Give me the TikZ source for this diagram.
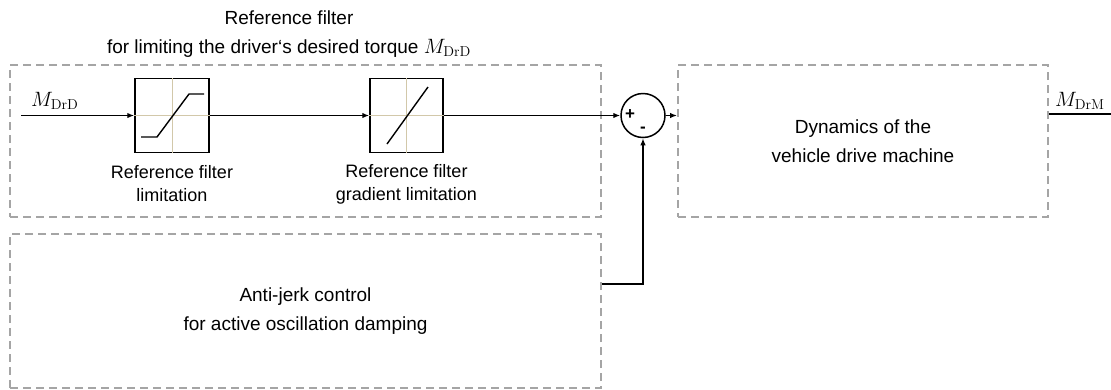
\documentclass[tikz,border=0pt]{standalone}
\usepackage[no-math]{fontspec}
\setmainfont{Liberation Sans}
\usetikzlibrary{arrows.meta}
\definecolor{axiscol}{RGB}{210,200,170}
\definecolor{dashcol}{RGB}{165,165,165}
\begin{document}
\begin{tikzpicture}[x=1pt,y=-1pt,
  dbox/.style={draw=dashcol, dash pattern=on 8pt off 5pt, line width=1.8pt, inner sep=0pt},
  blk/.style={draw=black, line width=1.5pt, inner sep=0pt, minimum width=74pt, minimum height=74pt},
  conn/.style={line width=1.5pt, -{Latex[length=7pt,width=5.5pt]}},
  plain/.style={line width=1.5pt},
  axisline/.style={draw=axiscol, line width=1pt},
  maintext/.style={font=\fontsize{19}{29}\selectfont, align=center, inner sep=0pt},
  labtext/.style={font=\fontsize{18}{23}\selectfont, align=center, inner sep=0pt},
  mathlab/.style={font=\fontsize{21}{21}\selectfont, inner sep=0pt},
  signtext/.style={font=\fontsize{17}{17}\selectfont\bfseries, inner sep=0pt}]
\useasboundingbox (0,0) rectangle (1111,389);

% dashed frames
\node[dbox, minimum width=591pt, minimum height=152pt] (ref) at (305.5,141) {};
\node[dbox, minimum width=591pt, minimum height=154pt, maintext] (aj) at (305.5,311)
  {Anti-jerk control\\for active oscillation damping};
\node[dbox, minimum width=370pt, minimum height=152pt, maintext] (dyn) at (863,141)
  {Dynamics of the\\vehicle drive machine};

% title
\node[maintext] (title) at (289,34)
  {Reference filter\\for limiting the driver‘s desired torque {\fontsize{21}{21}\selectfont$M_{\mathrm{DrD}}$}};

% blocks
\node[blk] (b1) at (172,115.5) {};
\node[blk, minimum width=73pt] (b2) at (406.5,115.5) {};
\node[draw, circle, line width=1.5pt, minimum size=44pt, inner sep=0pt] (sum) at (643,115.5) {};

% block graphics
\draw[axisline] (b1.north) -- (b1.south);
\draw[axisline] (b1.west) -- (b1.east);
\draw[line width=1.4pt] (141,137) -- (157,137) -- (189,94) -- (204,94);
\draw[axisline] (b2.north) -- (b2.south);
\draw[axisline] (b2.west) -- (b2.east);
\draw[line width=1.4pt] (387,144) -- (428,87);

% labels
\node[labtext] (l1) at (172,184) {Reference filter\\limitation};
\node[labtext] (l2) at (406.5,184) {Reference filter\\gradient limitation};
\node[signtext] (plus) at (630,115) {+};
\node[signtext] (minus) at (643,130) {-};

% signals
\coordinate (in) at (21,115.5);
\node[anchor=west, mathlab] (min) at (31,101) {$M_{\mathrm{DrD}}$};
\draw[conn] (in) -- (b1.west);
\draw[conn] (b1.east) -- (b2.west);
\draw[conn] (b2.east) -- (sum.west);
\draw[conn] (sum.east) -- (sum.east -| dyn.west);

\coordinate (fbc) at (643,284);
\draw[conn] (fbc -| aj.east) -- (fbc) -- (sum.south);

\coordinate (out) at (1111,114);
\draw[plain] (dyn.east |- out) -- (out);
\node[anchor=west, mathlab] (mout) at (1055,101) {$M_{\mathrm{DrM}}$};
\end{tikzpicture}
\end{document}
